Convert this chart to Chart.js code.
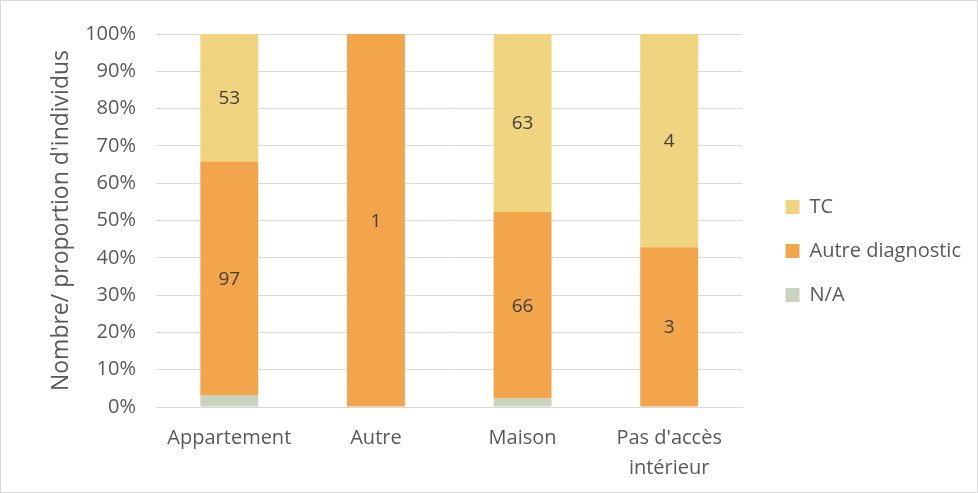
<!DOCTYPE html>
<html>
<head>
<meta charset="utf-8">
<script src="https://cdn.jsdelivr.net/npm/chart.js@4.4.1/dist/chart.umd.min.js"></script>
<style>
    body { margin: 0; background: #fff; }
    #wrap { position: relative; width: 978px; height: 493px; box-sizing: border-box; border: 1px solid #d9d9d9; }
</style>
</head>
<body>
<div id="wrap"><canvas id="myChart"></canvas></div>
<script>
// categories and counts
const categories = ['Appartement', 'Autre', 'Maison', ["Pas d'accès", 'intérieur']];
const naCounts = [5, 0, 3, 0];
const autreCounts = [97, 1, 66, 3];
const tcCounts = [53, 0, 63, 4];
const yTicks = [0, 10, 20, 30, 40, 50, 60, 70, 80, 90, 100];

const totals = categories.map((c, i) => naCounts[i] + autreCounts[i] + tcCounts[i]);
const pct = (arr) => arr.map((v, i) => v / totals[i] * 100);

const fontFamily = "'Open Sans', 'Liberation Sans', sans-serif";
const textColor = '#595959';

// draws the counts in the middle of each segment (only TC / Autre diagnostic)
const valueLabels = {
    id: 'valueLabels',
    afterDatasetsDraw(chart) {
        const ctx = chart.ctx;
        ctx.save();
        ctx.font = '19px ' + fontFamily;
        ctx.fillStyle = '#404040';
        ctx.textAlign = 'center';
        ctx.textBaseline = 'middle';
        chart.data.datasets.forEach((ds, di) => {
            if (!ds.counts) return;
            const meta = chart.getDatasetMeta(di);
            meta.data.forEach((bar, i) => {
                const count = ds.counts[i];
                if (!count) return;
                const p = bar.getProps(['x', 'y', 'base'], true);
                ctx.fillText(String(count), p.x, (p.y + p.base) / 2 + 1);
            });
        });
        ctx.restore();
    }
};

// nudge the legend a bit away from the plot, like in the original
const legendShift = {
    id: 'legendShift',
    afterLayout(chart) {
        const lg = chart.legend;
        lg.left += 19;
        lg.right += 19;
        lg.top -= 12;
        lg.bottom -= 12;
    }
};

let config = {
    type: 'bar',
    data: {
        labels: categories,
        datasets: [
            {
                label: 'N/A',
                data: pct(naCounts),
                backgroundColor: '#cad3bd'
            },
            {
                label: 'Autre diagnostic',
                data: pct(autreCounts),
                counts: autreCounts,
                backgroundColor: '#f2a54a'
            },
            {
                label: 'TC',
                data: pct(tcCounts),
                counts: tcCounts,
                backgroundColor: '#f0d480'
            }
        ]
    },
    options: {
        responsive: true,
        maintainAspectRatio: false,
        animation: false,
        datasets: {
            bar: { barPercentage: 0.395, categoryPercentage: 1 }
        },
        layout: { padding: { left: 10, top: 33, right: 25, bottom: 0 } },
        plugins: {
            tooltip: { enabled: false },
            legend: {
                position: 'right',
                reverse: true,
                labels: {
                    color: textColor,
                    font: { family: fontFamily, size: 20 },
                    boxWidth: 14,
                    boxHeight: 14,
                    padding: 24
                }
            }
        },
        scales: {
            x: {
                stacked: true,
                grid: { display: false, drawTicks: false },
                border: { color: '#d9d9d9' },
                ticks: {
                    color: textColor,
                    font: { family: fontFamily, size: 20, lineHeight: 1.5 },
                    maxRotation: 0,
                    padding: 16
                },
                afterFit(s) { s.height = 85; }
            },
            y: {
                stacked: true,
                min: 0,
                max: 100,
                border: { display: false },
                grid: { color: '#d9d9d9', drawTicks: false },
                afterBuildTicks(s) { s.ticks = yTicks.map(v => ({ value: v })); },
                ticks: {
                    color: textColor,
                    font: { family: fontFamily, size: 20 },
                    padding: 20,
                    callback: (v) => v + '%'
                },
                title: {
                    display: true,
                    text: "Nombre/ proportion d'individus",
                    color: textColor,
                    font: { family: fontFamily, size: 23 },
                    padding: { top: 37, bottom: 0 }
                },
                afterFit(s) { s.width = 145; }
            }
        }
    },
    plugins: [valueLabels, legendShift]
};

let ctx = document.getElementById('myChart').getContext('2d');
var myChart = new Chart(ctx, config);
</script>
</body>
</html>
